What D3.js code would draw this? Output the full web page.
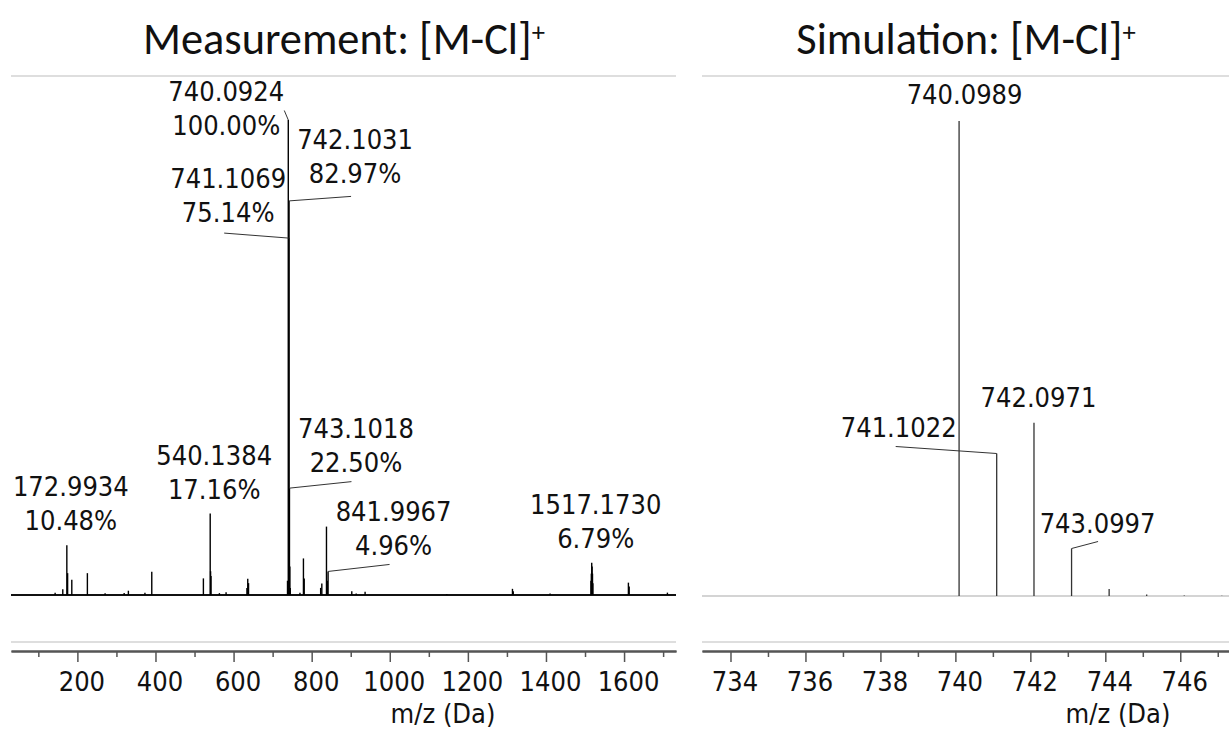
<!DOCTYPE html>
<html>
<head>
<meta charset="utf-8">
<script src="https://cdn.jsdelivr.net/npm/d3@7"></script>
<style>
  html, body { margin: 0; padding: 0; background: #fff; }
  svg { display: block; }
  .lbl { font-family: "DejaVu Sans Condensed", "DejaVu Sans", Verdana, sans-serif; font-stretch: condensed; font-size: 27px; fill: #111; }
  .title { font-family: Carlito, Lato, "Open Sans", sans-serif; fill: #111; }
</style>
</head>
<body>
<svg id="chart" width="1229" height="730"></svg>
<script>
// ---- Measured spectrum: annotated peaks (m/z, relative intensity %) ----
const measLabelMz  = [172.9934, 540.1384, 740.0924, 741.1069, 742.1031, 743.1018, 841.9967, 1517.1730];
const measLabelPct = [10.48, 17.16, 100.00, 75.14, 82.97, 22.50, 4.96, 6.79];

// ---- Measured spectrum: other peaks (m/z, relative intensity %) ----
const measOtherMz  = [143.0, 162.6, 174.99, 185.7, 225.6, 271.0, 319.8, 330.6, 373.0, 390.5,
                      522.7, 541.14, 542.14, 563.7, 580.8, 634.2, 636.3, 638.3,
                      738.1, 744.10, 745.10, 770.0, 778.9, 780.9, 823.0, 826.0, 837.9, 839.9,
                      902.7, 914.0, 936.8, 1146.0, 1314.2, 1316.2, 1410.5,
                      1515.17, 1516.17, 1518.17, 1519.17, 1520.17, 1611.1, 1613.1, 1711.0];
const measOtherPct = [0.5, 1.2, 4.6, 3.2, 4.6, 0.35, 0.4, 0.9, 0.5, 4.9,
                      3.5, 5.0, 4.0, 0.4, 0.6, 1.5, 3.4, 2.5,
                      3.0, 6.0, 1.5, 0.5, 7.7, 3.5, 1.5, 2.4, 14.4, 3.0,
                      0.8, 0.3, 0.7, 0.2, 1.3, 0.8, 0.3,
                      3.0, 4.5, 6.0, 4.5, 2.5, 2.6, 1.8, 0.5];

// ---- Simulated isotope pattern ----
const simMz  = [740.0989, 741.1022, 742.0971, 743.0997, 744.1020, 745.1040, 746.1060, 747.1080];
const simPct = [100, 30.0, 36.5, 10.0, 1.5, 0.3, 0.1, 0.05];
const simLabelMz = [740.0989, 741.1022, 742.0971, 743.0997];

// ---- Axis ticks ----
const measMajorTicks = [200, 400, 600, 800, 1000, 1200, 1400, 1600];
const measMinorTicks = [100, 300, 500, 700, 900, 1100, 1300, 1500, 1700];
const simMajorTicks  = [734, 736, 738, 740, 742, 744, 746];
const simMinorTicks  = [735, 737, 739, 741, 743, 745, 747];

const titles = ["Measurement: [M-Cl]", "Simulation: [M-Cl]"];
const axisTitle = "m/z (Da)";

// ---- Label placement (pixel offsets from the peak apex) ----
// lead: end point of the leader line, or null; tx/ty: text centre and last-line baseline
const measLabelLayout = [
  { lead: null,          tx: 4,   ty: -15 },
  { lead: null,          tx: 4,   ty: -14 },
  { lead: [-4, -9.5],    tx: -62, ty: 15 },
  { lead: [-64.5, -5],   tx: -60.5, ty: -16.5 },
  { lead: [62, -4.5],    tx: 66,  ty: -18 },
  { lead: [62, -6.5],    tx: 66.5, ty: -16.5 },
  { lead: [61.5, -7],    tx: 65.5, ty: -16.5 },
  { lead: null,          tx: 4,   ty: -15 }
];
const simLabelLayout = [
  { lead: null,        tx: 5.5,  ty: -17.5 },
  { lead: [-101, -7],  tx: -98,  ty: -16.5 },
  { lead: null,        tx: 4.5,  ty: -15.5 },
  { lead: [26.5, -7],  tx: 26,   ty: -15.5 }
];

const svg = d3.select("#chart");
const LINE_GAP = 34;

// ---------- panel geometry ----------
const left  = { x0: 11,  x1: 676,  base: 595, top100: 120, frameTop: 76, frameBot: 642, axisY: 651 };
const right = { x0: 702, x1: 1229, base: 596, top100: 121, frameTop: 76, frameBot: 642, axisY: 651 };

const xMeas = d3.scaleLinear().domain([30, 1733]).range([left.x0, left.x1]);
const yMeas = d3.scaleLinear().domain([0, 100]).range([left.base, left.top100]);
const xSim  = d3.scaleLinear().domain([733.24, 747.3]).range([right.x0, right.x1]);
const ySim  = d3.scaleLinear().domain([0, 100]).range([right.base, right.top100]);

function frame(p) {
  const g = svg.append("g");
  [p.frameTop, p.frameBot].forEach(y => {
    g.append("line").attr("x1", p.x0).attr("x2", p.x1).attr("y1", y).attr("y2", y)
      .attr("stroke", "#dedede").attr("stroke-width", 2);
  });
}
frame(left);
frame(right);

// ---------- axes ----------
function drawAxis(x, p, major, minor) {
  const gMin = svg.append("g").attr("transform", `translate(0,${p.axisY})`)
    .call(d3.axisBottom(x).tickValues(minor).tickSize(6).tickSizeOuter(0).tickFormat(""));
  const gMaj = svg.append("g").attr("transform", `translate(0,${p.axisY})`)
    .call(d3.axisBottom(x).tickValues(major).tickSize(11).tickSizeOuter(0).tickPadding(10).tickFormat(d3.format("d")));
  [gMin, gMaj].forEach(g => {
    g.select(".domain").attr("stroke", "#555").attr("stroke-width", 2);
    g.selectAll(".tick line").attr("stroke", "#555").attr("stroke-width", 1.5);
  });
  gMaj.selectAll(".tick text").attr("class", "lbl").attr("fill", "#111")
    .attr("font-family", null).attr("font-size", null).attr("dx", 4);
}
drawAxis(xMeas, left, measMajorTicks, measMinorTicks);
drawAxis(xSim, right, simMajorTicks, simMinorTicks);

svg.append("text").attr("class", "lbl").attr("x", 443).attr("y", 723)
  .attr("text-anchor", "middle").text(axisTitle);
svg.append("text").attr("class", "lbl").attr("x", 1118).attr("y", 723)
  .attr("text-anchor", "middle").text(axisTitle);

// ---------- measured spectrum ----------
const measPeaks = measOtherMz.map((m, i) => ({ mz: m, v: measOtherPct[i] }))
  .concat(measLabelMz.map((m, i) => ({ mz: m, v: measLabelPct[i] })));

svg.append("line")
  .attr("x1", xMeas(30)).attr("x2", xMeas(1733))
  .attr("y1", yMeas(0)).attr("y2", yMeas(0))
  .attr("stroke", "#111").attr("stroke-width", 1.8);

svg.append("g").selectAll("line").data(measPeaks).join("line")
  .attr("x1", d => xMeas(d.mz)).attr("x2", d => xMeas(d.mz))
  .attr("y1", yMeas(0)).attr("y2", d => yMeas(d.v))
  .attr("stroke", "#000").attr("stroke-width", 1.4);

const measLab = svg.append("g");
measLabelMz.forEach((m, i) => {
  const px = xMeas(m), py = yMeas(measLabelPct[i]);
  const L = measLabelLayout[i];
  if (L.lead) {
    measLab.append("line").attr("x1", px).attr("y1", py)
      .attr("x2", px + L.lead[0]).attr("y2", py + L.lead[1])
      .attr("stroke", "#333").attr("stroke-width", 1);
  }
  const t = measLab.append("text").attr("class", "lbl").attr("text-anchor", "middle");
  t.append("tspan").attr("x", px + L.tx).attr("y", py + L.ty - LINE_GAP).text(m.toFixed(4));
  t.append("tspan").attr("x", px + L.tx).attr("y", py + L.ty).text(measLabelPct[i].toFixed(2) + "%");
});

// ---------- simulated spectrum ----------
svg.append("line")
  .attr("x1", right.x0).attr("x2", right.x1)
  .attr("y1", ySim(0)).attr("y2", ySim(0))
  .attr("stroke", "#d4d4d4").attr("stroke-width", 2);

svg.append("g").selectAll("line").data(simMz.map((m, i) => ({ mz: m, v: simPct[i] }))).join("line")
  .attr("x1", d => xSim(d.mz)).attr("x2", d => xSim(d.mz))
  .attr("y1", ySim(0)).attr("y2", d => ySim(d.v))
  .attr("stroke", "#333").attr("stroke-width", 1.3);

const simLab = svg.append("g");
simLabelMz.forEach((m, i) => {
  const v = simPct[simMz.indexOf(m)];
  const px = xSim(m), py = ySim(v);
  const L = simLabelLayout[i];
  if (L.lead) {
    simLab.append("line").attr("x1", px).attr("y1", py)
      .attr("x2", px + L.lead[0]).attr("y2", py + L.lead[1])
      .attr("stroke", "#333").attr("stroke-width", 1);
  }
  simLab.append("text").attr("class", "lbl").attr("text-anchor", "middle")
    .attr("x", px + L.tx).attr("y", py + L.ty).text(m.toFixed(4));
});

// ---------- titles ----------
function title(str, cx) {
  const t = svg.append("text").attr("class", "title").attr("x", cx).attr("y", 54)
    .attr("text-anchor", "middle").attr("font-size", 34);
  t.append("tspan").text(str);
  t.append("tspan").attr("dy", "-0.5em").attr("font-size", "0.6em").text("+");
  return t;
}
const t1 = title(titles[0], 344);
const t2 = title(titles[1], 966);
// size the titles so the measurement heading spans about 402px
const w = t1.node().getComputedTextLength();
const fs = 34 * 402 / w;
t1.attr("font-size", fs);
t2.attr("font-size", fs);
</script>
</body>
</html>
